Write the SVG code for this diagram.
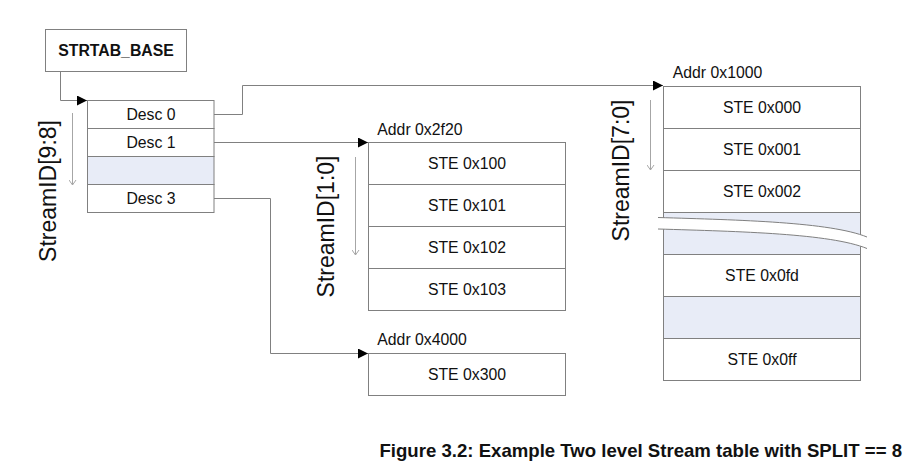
<svg xmlns="http://www.w3.org/2000/svg" width="915" height="467" viewBox="0 0 915 467">
<style>
.box{fill:#fff;stroke:#808080;stroke-width:1}
.blue{fill:#e8ecf7;stroke:#808080;stroke-width:1}
.lbl{font-family:"Liberation Sans",Arial,sans-serif;font-size:15.8px;fill:#111;text-anchor:middle}
.addr{font-family:"Liberation Sans",Arial,sans-serif;font-size:15.8px;fill:#111}
.bold{font-family:"Liberation Sans",Arial,sans-serif;font-weight:bold;fill:#111}
.sid{font-family:"Liberation Sans",Arial,sans-serif;font-size:23px;fill:#111;text-anchor:middle}
.conn{fill:none;stroke:#808080;stroke-width:1}
.dn{fill:none;stroke:#a6a6a6;stroke-width:1}
</style>
<defs>
<marker id="ah" markerUnits="userSpaceOnUse" markerWidth="10" markerHeight="10" refX="10" refY="5" orient="auto">
<path d="M0,0 L10,5 L0,10 z" fill="#000"/>
</marker>
<marker id="dh" markerUnits="userSpaceOnUse" markerWidth="8" markerHeight="8" refX="5" refY="4" orient="auto">
<path d="M0,0.5 L5,4 L0,7.5" fill="none" stroke="#a6a6a6" stroke-width="1"/>
</marker>
</defs>
<rect width="915" height="467" fill="#fff"/>

<g id="strtab_base">
<rect class="box" x="45.5" y="29.5" width="141" height="42"/>
<text class="bold" x="116" y="56" font-size="15.8" text-anchor="middle">STRTAB_BASE</text>
</g>

<g id="desc_table">
<rect class="box" x="87.5" y="100.5" width="126.5" height="28"/>
<rect class="box" x="87.5" y="128.5" width="126.5" height="28"/>
<rect class="blue" x="87.5" y="156.5" width="126.5" height="28"/>
<rect class="box" x="87.5" y="184.5" width="126.5" height="28"/>
<text class="lbl" x="151" y="120">Desc 0</text>
<text class="lbl" x="151" y="148">Desc 1</text>
<text class="lbl" x="151" y="204">Desc 3</text>
<path class="dn" d="M72.5,113 V185" marker-end="url(#dh)"/>
<text class="sid" transform="translate(55.5,191) rotate(-90)">StreamID[9:8]</text>
</g>

<g id="table_2f20">
<text class="addr" x="377.3" y="135">Addr 0x2f20</text>
<rect class="box" x="368.5" y="142.5" width="197" height="42"/>
<rect class="box" x="368.5" y="184.5" width="197" height="42"/>
<rect class="box" x="368.5" y="226.5" width="197" height="42"/>
<rect class="box" x="368.5" y="268.5" width="197" height="42"/>
<text class="lbl" x="467" y="169">STE 0x100</text>
<text class="lbl" x="467" y="211">STE 0x101</text>
<text class="lbl" x="467" y="253">STE 0x102</text>
<text class="lbl" x="467" y="295">STE 0x103</text>
<path class="dn" d="M355.5,157 V255" marker-end="url(#dh)"/>
<text class="sid" transform="translate(333.5,226.5) rotate(-90)">StreamID[1:0]</text>
</g>

<g id="table_4000">
<text class="addr" x="377.3" y="345">Addr 0x4000</text>
<rect class="box" x="368.5" y="353.5" width="197" height="42"/>
<text class="lbl" x="467" y="380">STE 0x300</text>
</g>

<g id="table_1000">
<text class="addr" x="672.7" y="78.3">Addr 0x1000</text>
<rect class="box" x="663.5" y="86.5" width="197" height="42"/>
<rect class="box" x="663.5" y="128.5" width="197" height="42"/>
<rect class="box" x="663.5" y="170.5" width="197" height="42"/>
<rect class="blue" x="663.5" y="212.5" width="197" height="42"/>
<rect class="box" x="663.5" y="254.5" width="197" height="42"/>
<rect class="blue" x="663.5" y="296.5" width="197" height="42"/>
<rect class="box" x="663.5" y="338.5" width="197" height="42"/>
<path d="M658,217.5 C740,220 830,222 867,237 L867,248.5 C830,233.5 740,231.5 658,229 Z" fill="#fff"/>
<path class="conn" d="M658,217.5 C740,220 830,222 867,237"/>
<path class="conn" d="M658,229 C740,231.5 830,233.5 867,248.5"/>
<text class="lbl" x="762" y="113">STE 0x000</text>
<text class="lbl" x="762" y="155">STE 0x001</text>
<text class="lbl" x="762" y="197">STE 0x002</text>
<text class="lbl" x="762" y="281">STE 0x0fd</text>
<text class="lbl" x="762" y="365">STE 0x0ff</text>
<path class="dn" d="M650.5,100 V170" marker-end="url(#dh)"/>
<text class="sid" transform="translate(629,170.5) rotate(-90)">StreamID[7:0]</text>
</g>

<g id="connectors">
<path class="conn" d="M60.5,72 V100.5 H87" marker-end="url(#ah)"/>
<path class="conn" d="M214,114.5 H242.5 V85.5 H663" marker-end="url(#ah)"/>
<path class="conn" d="M214,142.5 H368" marker-end="url(#ah)"/>
<path class="conn" d="M214,198.5 H270.5 V353.5 H368" marker-end="url(#ah)"/>
</g>

<text class="bold" x="902" y="456.5" font-size="18.6" text-anchor="end">Figure 3.2: Example Two level Stream table with SPLIT == 8</text>
</svg>
